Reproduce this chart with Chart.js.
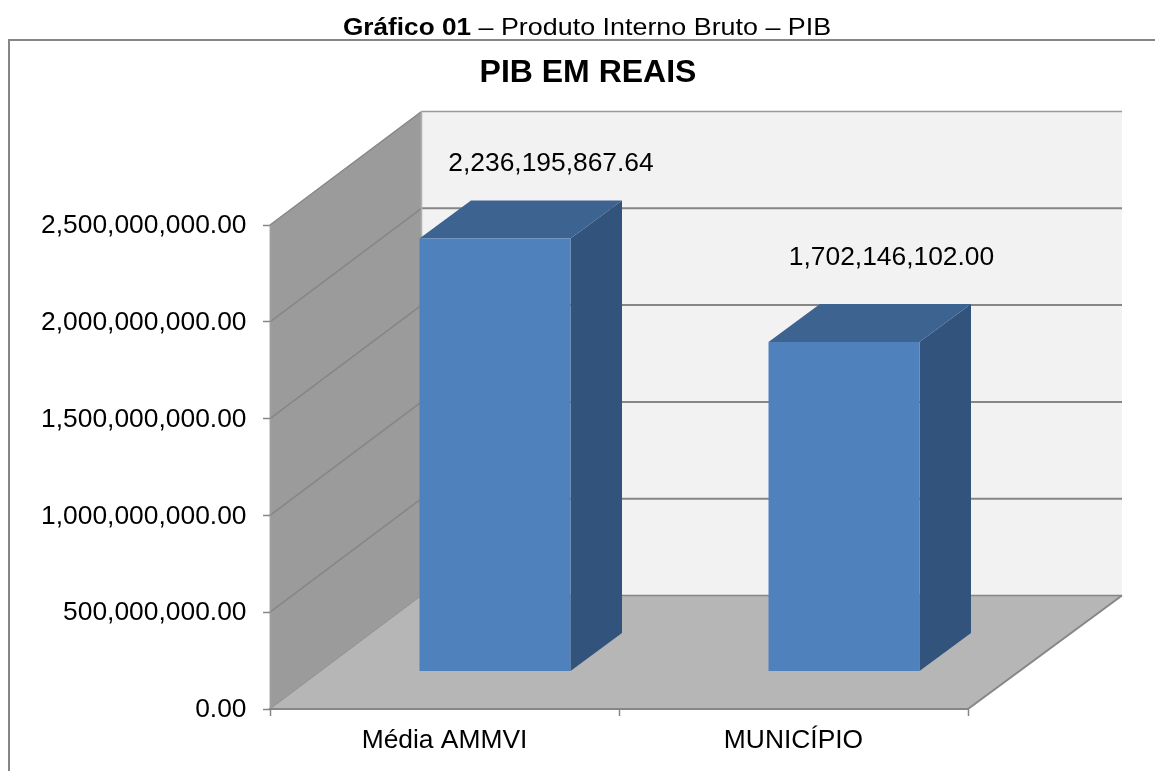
<!DOCTYPE html>
<html><head><meta charset="utf-8">
<style>
html,body{margin:0;padding:0;background:#fff;overflow:hidden}
#wrap{position:relative;width:1155px;height:771px}
canvas{position:absolute;left:0;top:0}
#cap{position:absolute;left:343px;top:12px;font:24.45px "Liberation Sans",Arial,sans-serif;color:#000;line-height:30px;white-space:nowrap;transform:scaleX(1.1);transform-origin:left center}
#cap b{font-size:23.8px}
</style>
<script src="https://cdn.jsdelivr.net/npm/chart.js@4/dist/chart.umd.min.js"></script>
</head><body>
<div id="wrap"><canvas id="c" width="1155" height="771"></canvas>
<div id="cap"><b>Gráfico 01</b> – Produto Interno Bruto – PIB</div></div>
<script>
const categories = ["Média AMMVI", "MUNICÍPIO"];
const pibValues = [2236195867.64, 1702146102.00];
const yMax = 2500000000;
const yStep = 500000000;

const FONT = '"Liberation Sans",Arial,sans-serif';
const GREY = '#868686';
const WALL = {dx:151.5, dy:-113.5, rightExtra:2.5};
const BAR_SHIFT = {dx:50.5, dy:-37.5};
const BAR_DEPTH = {dx:51.5, dy:-38};
const LABEL_OFFSET = [{dx:106.5,dy:-112.5},{dx:98,dy:-122}];
const fmt = v => Number(v).toLocaleString('en-US',{minimumFractionDigits:2,maximumFractionDigits:2});

function poly(ctx, pts, fill){
  ctx.beginPath();
  pts.forEach((p,i)=> i?ctx.lineTo(p[0],p[1]):ctx.moveTo(p[0],p[1]));
  ctx.closePath();
  ctx.fillStyle=fill; ctx.fill();
}
function line(ctx, pts, color, w){
  ctx.beginPath();
  pts.forEach((p,i)=> i?ctx.lineTo(p[0],p[1]):ctx.moveTo(p[0],p[1]));
  ctx.strokeStyle=color; ctx.lineWidth=w; ctx.stroke();
}

const scene = {
  id:'scene',
  afterLayout(chart){
    chart.titleBlock.left = 208;
    chart.titleBlock.right = 968;
  },
  beforeDraw(chart){
    const ctx=chart.ctx, {left:l,right:r,top:t,bottom:b}=chart.chartArea;
    const {dx,dy,rightExtra}=WALL;
    const R=r+dx+rightExtra;
    ctx.save();
    line(ctx,[[9,771],[9,40],[1155,40]],GREY,2);
    poly(ctx,[[l+dx,t+dy],[R,t+dy],[R,b+dy],[l+dx,b+dy]],'#f2f2f2');
    poly(ctx,[[l,t],[l+dx,t+dy],[l+dx,b+dy],[l,b]],'#9b9b9b');
    poly(ctx,[[l,b],[l+dx,b+dy],[R,b+dy],[r,b]],'#b6b6b6');
    const ys=chart.scales.y;
    ys.ticks.forEach(tk=>{
      const y=ys.getPixelForValue(tk.value);
      if(tk.value===0) return;
      line(ctx,[[l,y],[l+dx,y+dy]],GREY,1.5);
      line(ctx,[[l+dx,y+dy],[R,y+dy]],tk.value===yMax?'#9a9a9a':GREY,tk.value===yMax?1.5:2);
    });
    line(ctx,[[l,t],[l,b]],'#a6a6a6',1);
    line(ctx,[[l+dx,t+dy],[l+dx,b+dy]],'#b0b0b0',1.5);
    line(ctx,[[l,b],[l+dx,b+dy]],'#8e8e8e',1);
    line(ctx,[[l+dx,b+dy],[R,b+dy]],GREY,1.5);
    line(ctx,[[r,b],[R,b+dy]],GREY,2);
    ctx.restore();
  },
  beforeDatasetsDraw(chart){
    const ctx=chart.ctx;
    ctx.save();
    ctx.translate(BAR_SHIFT.dx,BAR_SHIFT.dy);
    const {dx,dy}=BAR_DEPTH;
    chart.getDatasetMeta(0).data.forEach(el=>{
      const p=el.getProps(['x','y','base','width'],true);
      const a=p.x-p.width/2, z=p.x+p.width/2;
      poly(ctx,[[z,p.y],[z+dx,p.y+dy],[z+dx,p.base+dy],[z,p.base]],'#32537b');
      poly(ctx,[[a,p.y],[a+dx,p.y+dy],[z+dx,p.y+dy],[z,p.y]],'#3d6391');
    });
  },
  afterDatasetsDraw(chart){
    const ctx=chart.ctx;
    ctx.restore();
    ctx.save();
    ctx.font='26.4px '+FONT;
    ctx.fillStyle='#000';
    ctx.textAlign='center';
    ctx.textBaseline='middle';
    chart.getDatasetMeta(0).data.forEach((el,i)=>{
      const p=el.getProps(['x','y'],true);
      ctx.fillText(fmt(pibValues[i]),p.x+LABEL_OFFSET[i].dx,p.y+LABEL_OFFSET[i].dy);
    });
    ctx.restore();
  }
};

new Chart(document.getElementById('c'),{
  type:'bar',
  data:{labels:categories,datasets:[{
    data:pibValues,
    backgroundColor:'#4f81bd',
    borderWidth:0,
    barPercentage:151/349,
    categoryPercentage:1,
    clip:false
  }]},
  options:{
    responsive:false,
    animation:false,
    devicePixelRatio:1,
    layout:{padding:{left:0,right:187,top:0,bottom:0}},
    plugins:{
      legend:{display:false},
      tooltip:{enabled:false},
      title:{display:true,text:'PIB EM REAIS',color:'#000',
        font:{family:FONT,size:32,weight:'bold',lineHeight:1.2},
        padding:{top:54.3,bottom:132.3}}
    },
    scales:{
      x:{
        afterFit(s){s.height=62;},
        grid:{drawOnChartArea:false,drawTicks:true,tickLength:7,tickColor:GREY,tickWidth:1.5,offset:true},
        border:{display:true,color:GREY,width:2},
        ticks:{color:'#000',font:{family:FONT,size:26.4},padding:9,maxRotation:0}
      },
      y:{
        min:0,max:yMax,
        afterFit(s){s.width=270;},
        grid:{drawOnChartArea:false,drawTicks:true,tickLength:7,tickColor:GREY,tickWidth:1.5},
        border:{display:false},
        ticks:{stepSize:yStep,color:'#000',font:{family:FONT,size:26.4},padding:16.5,labelOffset:1,callback:v=>fmt(v)}
      }
    }
  },
  plugins:[scene]
});
</script>
</body></html>
